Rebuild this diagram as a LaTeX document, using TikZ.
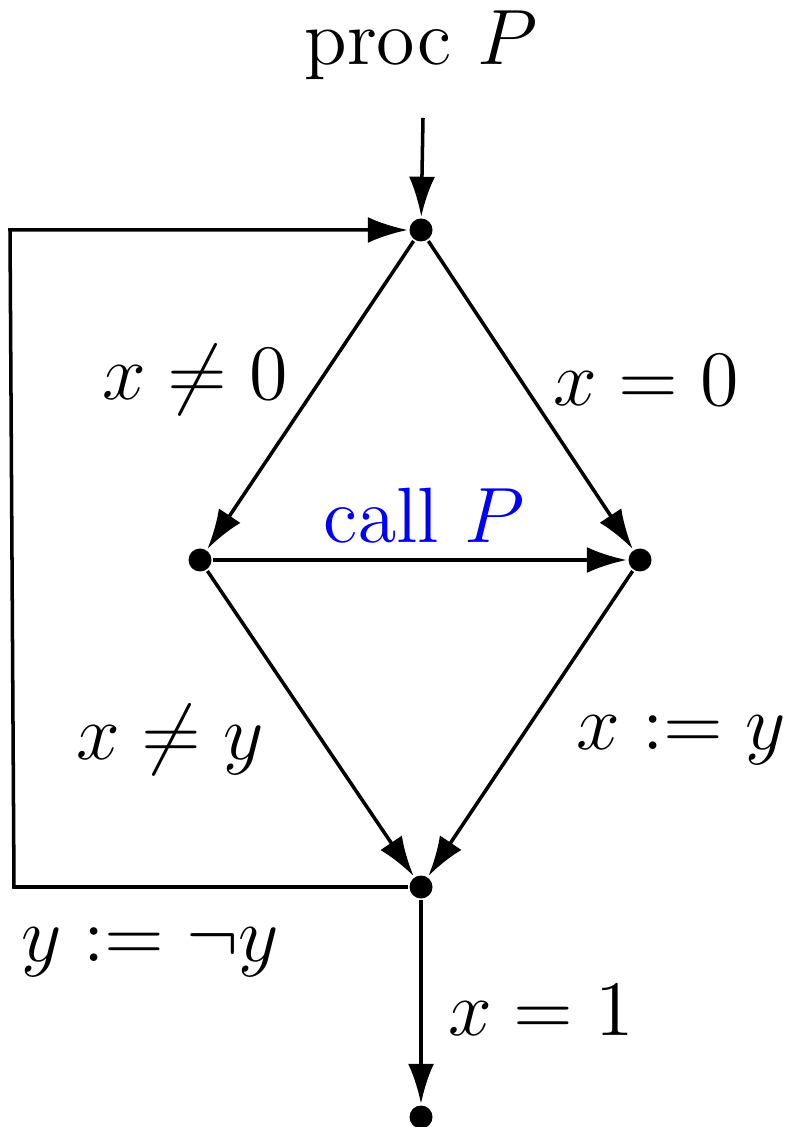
\documentclass[tikz,border=0pt]{standalone}
\usetikzlibrary{arrows.meta}
\begin{document}
\begin{tikzpicture}[line width = 1pt,
  dot/.style = {circle, fill = black, inner sep = 0pt, minimum size = 2.3mm},
  lbl/.style = {font = \Large, scale = 1.55},
  >={Latex[length = 4mm, width = 2.6mm]}]
\useasboundingbox (0,0) rectangle (7.91,-11.27);
\node[lbl] (title) at (4.21,-0.45) {$\mathrm{proc}\ P$};
\coordinate (entry) at (4.23,-1.18);
\node[dot] (top) at (4.21,-2.30) {};
\node[dot] (left) at (2.00,-5.60) {};
\node[dot] (right) at (6.40,-5.60) {};
\node[dot] (bot) at (4.21,-8.87) {};
\node[dot] (exit) at (4.21,-11.17) {};
\coordinate (loopa) at (0.14,-8.87);
\coordinate (loopb) at (0.10,-2.30);
\draw[->] (entry) -- (top);
\draw[->] (top) -- (left);
\draw[->] (top) -- (right);
\draw[->] (left) -- (right);
\draw[->] (left) -- (bot);
\draw[->] (right) -- (bot);
\draw[->] (bot) -- (exit);
\draw[->] (bot) -- (loopa) -- (loopb) -- (top);
\node[lbl] at (1.95,-3.80) {$x \neq 0$};
\node[lbl] at (6.46,-3.80) {$x = 0$};
\node[lbl, blue] at (4.24,-5.15) {$\mathrm{call}\ P$};
\node[lbl] at (1.70,-7.40) {$x \neq y$};
\node[lbl] at (6.81,-7.40) {$x := y$};
\node[lbl] at (1.50,-9.52) {$y := \neg y$};
\node[lbl] at (5.41,-10.10) {$x = 1$};
\end{tikzpicture}
\end{document}
